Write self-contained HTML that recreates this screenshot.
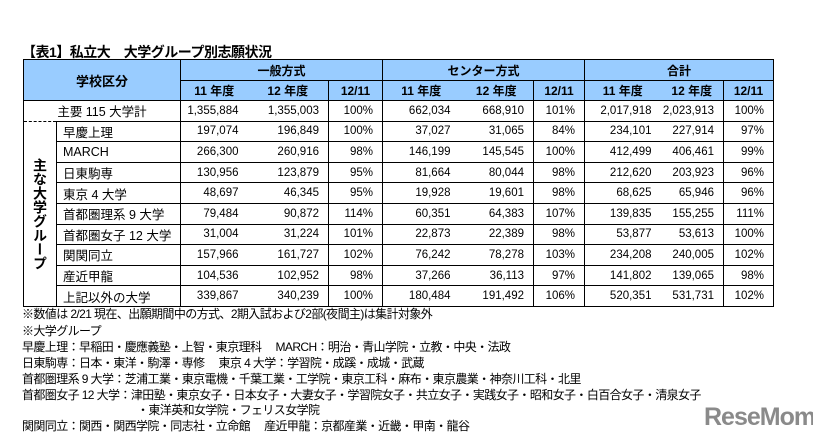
<!DOCTYPE html>
<html><head><meta charset="utf-8"><style>
body{margin:0;width:813px;height:442px;background:#fff;overflow:hidden;position:relative;font-family:"Liberation Sans","Noto Sans CJK JP",sans-serif;color:#000}
#title{position:absolute;left:22px;top:42px;font-size:14px;font-weight:bold;letter-spacing:-0.5px}
table{position:absolute;left:23px;top:59px;border-collapse:collapse;table-layout:fixed;font-size:11.5px}
td{padding:0;border-top:1px solid #000;white-space:nowrap;overflow:hidden}
.h td{background:#99ccff;text-align:center;font-weight:bold;font-size:12px}
.h1 td{height:20px}.h2 td{height:19px}
.d td{height:19.6px;text-align:right;padding-right:9px}
.d td.n{text-align:left;padding-left:6px;padding-right:0;font-size:12.5px}
.b{border-left:1px solid #000}
.r{border-right:1px solid #000}
#vt{writing-mode:vertical-rl;text-align:center;font-size:14px;font-weight:bold;letter-spacing:0px;padding:0!important;border-top:1px dashed #000;border-left:1px solid #000;border-bottom:1px solid #000}
.notes{position:absolute;left:22px;font-size:12px;letter-spacing:-0.6px;white-space:nowrap}
#logo{position:absolute;left:704px;top:403px;font-size:25px;font-weight:bold;color:#8a8a8a;letter-spacing:-1px;font-family:"Liberation Sans",sans-serif}
</style></head><body>
<div id="title">【表1】私立大　大学グループ別志願状況</div>
<table>
<colgroup><col style="width:33px"><col style="width:124px"><col style="width:67px"><col style="width:81px"><col style="width:54px"><col style="width:77px"><col style="width:74px"><col style="width:51px"><col style="width:76px"><col style="width:63px"><col style="width:50px"></colgroup>
<tr class="h h1">
<td colspan="2" rowspan="2" class="b" style="border-bottom:1px solid #000;font-size:13px">学校区分</td>
<td colspan="3" class="b">一般方式</td>
<td colspan="3" class="b">センター方式</td>
<td colspan="3" class="b r">合計</td></tr>
<tr class="h h2">
<td class="b">11 年度</td><td>12 年度</td><td class="b">12/11</td>
<td class="b">11 年度</td><td>12 年度</td><td class="b">12/11</td>
<td class="b">11 年度</td><td>12 年度</td><td class="b r">12/11</td></tr>
<tbody id="body"></tbody>
</table>
<div class="notes" style="top:305px">※数値は 2/21 現在、出願期間中の方式、2期入試および2部(夜間主)は集計対象外</div>
<div class="notes" style="top:322px">※大学グループ</div>
<div class="notes" style="top:338px">早慶上理：早稲田・慶應義塾・上智・東京理科　 MARCH：明治・青山学院・立教・中央・法政</div>
<div class="notes" style="top:354px">日東駒専：日本・東洋・駒澤・専修　 東京 4 大学：学習院・成蹊・成城・武蔵</div>
<div class="notes" style="top:370px">首都圏理系 9 大学：芝浦工業・東京電機・千葉工業・工学院・東京工科・麻布・東京農業・神奈川工科・北里</div>
<div class="notes" style="top:386px">首都圏女子 12 大学：津田塾・東京女子・日本女子・大妻女子・学習院女子・共立女子・実践女子・昭和女子・白百合女子・清泉女子</div>
<div class="notes" style="top:401px;left:137px">・東洋英和女学院・フェリス女学院</div>
<div class="notes" style="top:417px">関関同立：関西・関西学院・同志社・立命館　 産近甲龍：京都産業・近畿・甲南・龍谷</div>
<div id="logo">ReseMom</div>
<script>
const names=["主要 115 大学計","早慶上理","MARCH","日東駒専","東京 4 大学","首都圏理系 9 大学","首都圏女子 12 大学","関関同立","産近甲龍","上記以外の大学"];
const gen11=["1,355,884","197,074","266,300","130,956","48,697","79,484","31,004","157,966","104,536","339,867"];
const gen12=["1,355,003","196,849","260,916","123,879","46,345","90,872","31,224","161,727","102,952","340,239"];
const genR=["100%","100%","98%","95%","95%","114%","101%","102%","98%","100%"];
const cen11=["662,034","37,027","146,199","81,664","19,928","60,351","22,873","76,242","37,266","180,484"];
const cen12=["668,910","31,065","145,545","80,044","19,601","64,383","22,389","78,278","36,113","191,492"];
const cenR=["101%","84%","100%","98%","98%","107%","98%","103%","97%","106%"];
const tot11=["2,017,918","234,101","412,499","212,620","68,625","139,835","53,877","234,208","141,802","520,351"];
const tot12=["2,023,913","227,914","406,461","203,923","65,946","155,255","53,613","240,005","139,065","531,731"];
const totR=["100%","97%","99%","96%","96%","111%","100%","102%","98%","102%"];
const tb=document.getElementById('body');
names.forEach((n,i)=>{
  const tr=document.createElement('tr');tr.className='d';
  
  
  let h='';
  if(i===0){h+='<td colspan="2" class="b" style="text-align:center;padding:0;font-size:12.5px">'+n+'</td>';}
  else{
    if(i===1)h+='<td id="vt" rowspan="9">主な大学グループ</td>';
    h+='<td class="n b" style="'+(i===9?'border-bottom:1px solid #000':'')+'">'+n+'</td>';
  }
  const bb=i===9?' style="border-bottom:1px solid #000"':'';
  h+='<td class="b"'+bb+'>'+gen11[i]+'</td><td'+bb+'>'+gen12[i]+'</td><td class="b"'+bb+'>'+genR[i]+'</td>';
  h+='<td class="b"'+bb+'>'+cen11[i]+'</td><td'+bb+'>'+cen12[i]+'</td><td class="b"'+bb+'>'+cenR[i]+'</td>';
  h+='<td class="b"'+bb+'>'+tot11[i]+'</td><td'+bb+'>'+tot12[i]+'</td><td class="b r"'+bb+'>'+totR[i]+'</td>';
  tr.innerHTML=h;tb.appendChild(tr);
});
</script>
</body></html>
